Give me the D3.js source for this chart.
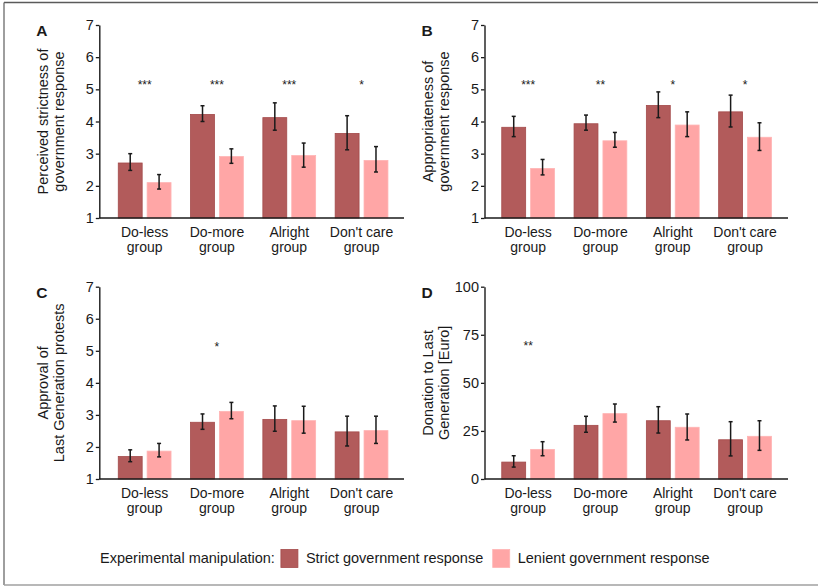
<!DOCTYPE html>
<html>
<head>
<meta charset="utf-8">
<script src="https://cdn.jsdelivr.net/npm/d3@7"></script>
<style>
  body { margin: 0; background: #fff; }
  svg { display: block; }
  text { font-family: "Liberation Sans", Arial, sans-serif; }
</style>
</head>
<body>
<svg width="818" height="586"></svg>
<script>
// --------------- //
// DATA //
// --------------- //
const groups = ["Do-less group", "Do-more group", "Alright group", "Don't care group"];
const series = ["Strict government response", "Lenient government response"];

// A - perceived strictness
const aStrict = [2.71, 4.22, 4.12, 3.63];
const aStrictLo = [2.48, 4.00, 3.73, 3.12];
const aStrictHi = [3.00, 4.49, 4.58, 4.18];
const aLenient = [2.10, 2.91, 2.94, 2.79];
const aLenientLo = [1.90, 2.70, 2.58, 2.43];
const aLenientHi = [2.35, 3.15, 3.33, 3.22];
const aStars = ["***", "***", "***", "*"];

// B - appropriateness
const bStrict = [3.82, 3.93, 4.50, 4.30];
const bStrictLo = [3.53, 3.73, 4.12, 3.83];
const bStrictHi = [4.16, 4.20, 4.92, 4.82];
const bLenient = [2.54, 3.40, 3.89, 3.51];
const bLenientLo = [2.34, 3.20, 3.53, 3.10];
const bLenientHi = [2.82, 3.66, 4.30, 3.96];
const bStars = ["***", "**", "*", "*"];

// C - approval of protests
const cStrict = [1.70, 2.77, 2.86, 2.47];
const cStrictLo = [1.54, 2.55, 2.49, 2.03];
const cStrictHi = [1.91, 3.03, 3.28, 2.96];
const cLenient = [1.87, 3.11, 2.82, 2.51];
const cLenientLo = [1.69, 2.88, 2.43, 2.11];
const cLenientHi = [2.11, 3.39, 3.27, 2.96];
const cStars = ["", "*", "", ""];

// D - donation
const dStrict = [8.8, 27.9, 30.3, 20.4];
const dStrictLo = [6.2, 24.3, 23.9, 12.0];
const dStrictHi = [12.1, 32.6, 37.6, 29.8];
const dLenient = [15.4, 34.0, 26.9, 22.2];
const dLenientLo = [12.1, 29.6, 20.3, 14.9];
const dLenientHi = [19.4, 39.0, 33.8, 30.3];
const dStars = ["**", "", "", ""];

const likertTicks = [1, 2, 3, 4, 5, 6, 7];
const euroTicks = [0, 25, 50, 75, 100];
const likertStarLevel = 5.22;
const euroStarLevel = 70.5;

// --------------- //
// SETUP //
// --------------- //
let svg = d3.select("svg");
const font = '"Liberation Sans", Arial, sans-serif';
const ink = "#1a1a1a";

let color = d3.scaleOrdinal()
    .domain(series)
    .range(["#b25b5b", "#ffa6a6"]);
let edge = d3.scaleOrdinal()
    .domain(series)
    .range(["#a44a4a", "#ffb3b3"]);

// frame
svg.append("line").attr("x1", 4).attr("x2", 818).attr("y1", 2.5).attr("y2", 2.5)
    .attr("stroke", "#5a5a5a").attr("stroke-width", 1.5);
svg.append("line").attr("x1", 4).attr("x2", 4).attr("y1", 2.5).attr("y2", 585)
    .attr("stroke", "#6a6a6a").attr("stroke-width", 1.3);
svg.append("line").attr("x1", 4).attr("x2", 818).attr("y1", 585).attr("y2", 585)
    .attr("stroke", "#a0a0a0").attr("stroke-width", 1.5);

const panels = [
    { letter: "A", title: ["Perceived strictness of", "government response"],
      left: 99.3, right: 404, top: 25, bottom: 218, pad: 9.2,
      domain: [1, 7], ticks: likertTicks, starLevel: likertStarLevel,
      strict: aStrict, strictLo: aStrictLo, strictHi: aStrictHi,
      lenient: aLenient, lenientLo: aLenientLo, lenientHi: aLenientHi, stars: aStars },
    { letter: "B", title: ["Appropriateness of", "government response"],
      left: 484.5, right: 788, top: 25, bottom: 218, pad: 7.5,
      domain: [1, 7], ticks: likertTicks, starLevel: likertStarLevel,
      strict: bStrict, strictLo: bStrictLo, strictHi: bStrictHi,
      lenient: bLenient, lenientLo: bLenientLo, lenientHi: bLenientHi, stars: bStars },
    { letter: "C", title: ["Approval of", "Last Generation protests"],
      left: 99.3, right: 404, top: 286.7, bottom: 479, pad: 9.2,
      domain: [1, 7], ticks: likertTicks, starLevel: likertStarLevel,
      strict: cStrict, strictLo: cStrictLo, strictHi: cStrictHi,
      lenient: cLenient, lenientLo: cLenientLo, lenientHi: cLenientHi, stars: cStars },
    { letter: "D", title: ["Donation to Last", "Generation [Euro]"],
      left: 484.5, right: 788, top: 286.7, bottom: 479, pad: 7.5,
      domain: [0, 100], ticks: euroTicks, starLevel: euroStarLevel,
      strict: dStrict, strictLo: dStrictLo, strictHi: dStrictHi,
      lenient: dLenient, lenientLo: dLenientLo, lenientHi: dLenientHi, stars: dStars }
];

// --------------- //
// PANELS //
// --------------- //
function drawPanel(p) {
    let g = svg.append("g");

    let y = d3.scaleLinear().domain(p.domain).range([p.bottom, p.top]);
    let x = d3.scaleBand()
        .domain(groups)
        .range([p.left + p.pad, p.left + p.pad + 289.2])
        .paddingInner(0.27)
        .paddingOuter(0.135);
    let xs = d3.scaleBand()
        .domain(series)
        .range([0, x.bandwidth()])
        .paddingInner(0.172);

    let rows = [];
    groups.forEach((grp, i) => {
        rows.push({ grp: grp, s: series[0], v: p.strict[i], lo: p.strictLo[i], hi: p.strictHi[i] });
        rows.push({ grp: grp, s: series[1], v: p.lenient[i], lo: p.lenientLo[i], hi: p.lenientHi[i] });
    });

    // bars
    g.selectAll("rect.bar")
        .data(rows)
        .enter()
        .append("rect")
        .attr("class", "bar")
        .attr("x", d => x(d.grp) + xs(d.s))
        .attr("width", xs.bandwidth())
        .attr("y", d => y(d.v))
        .attr("height", d => y(p.domain[0]) - y(d.v))
        .attr("fill", d => color(d.s))
        .attr("stroke", d => edge(d.s))
        .attr("stroke-width", 0.8);

    // error bars
    let cx = d => x(d.grp) + xs(d.s) + xs.bandwidth() / 2;
    let err = g.selectAll("g.err")
        .data(rows)
        .enter()
        .append("g")
        .attr("class", "err")
        .attr("stroke", ink)
        .attr("stroke-width", 1.5);
    err.append("line")
        .attr("x1", cx).attr("x2", cx)
        .attr("y1", d => y(d.lo)).attr("y2", d => y(d.hi));
    err.append("line")
        .attr("x1", d => cx(d) - 2).attr("x2", d => cx(d) + 2)
        .attr("y1", d => y(d.hi)).attr("y2", d => y(d.hi));
    err.append("line")
        .attr("x1", d => cx(d) - 2).attr("x2", d => cx(d) + 2)
        .attr("y1", d => y(d.lo)).attr("y2", d => y(d.lo));

    // stars
    g.selectAll("text.star")
        .data(groups)
        .enter()
        .append("text")
        .attr("class", "star")
        .attr("x", d => x(d) + x.bandwidth() / 2)
        .attr("y", y(p.starLevel) + 7)
        .attr("text-anchor", "middle")
        .attr("font-size", 12)
        .attr("fill", ink)
        .text((d, i) => p.stars[i]);

    // y axis
    let yAxis = g.append("g")
        .attr("transform", `translate(${p.left},0)`)
        .call(d3.axisLeft(y).tickValues(p.ticks).tickFormat(d3.format("d"))
            .tickSize(3.5).tickSizeOuter(0).tickPadding(2))
        .attr("font-size", 14.5)
        .attr("font-family", font)
        .attr("color", ink);
    yAxis.select(".domain").attr("stroke-width", 1.4);
    yAxis.selectAll(".tick line").attr("stroke-width", 1.3);

    // x axis line
    g.append("line")
        .attr("x1", p.left).attr("x2", p.right)
        .attr("y1", p.bottom).attr("y2", p.bottom)
        .attr("stroke", ink)
        .attr("stroke-width", 1.4);

    // category labels
    let xAxis = g.append("g")
        .attr("transform", `translate(0,${p.bottom})`)
        .call(d3.axisBottom(x).tickSize(0))
        .attr("font-size", 14)
        .attr("font-family", font)
        .attr("color", ink);
    xAxis.select(".domain").remove();
    xAxis.selectAll(".tick text").each(function (d) {
        let t = d3.select(this).text(null).attr("y", 0).attr("dy", null);
        let cut = d.lastIndexOf(" ");
        t.append("tspan").attr("x", 0).attr("y", 19).text(d.slice(0, cut));
        t.append("tspan").attr("x", 0).attr("y", 34).text(d.slice(cut + 1));
    });

    // axis title
    let midY = (p.top + p.bottom) / 2;
    p.title.forEach((line, i) => {
        g.append("text")
            .attr("transform", `translate(${p.left - 51.5 + i * 16},${midY}) rotate(-90)`)
            .attr("text-anchor", "middle")
            .attr("font-size", 14.5)
            .attr("fill", ink)
            .text(line);
    });

    // panel letter
    g.append("text")
        .attr("x", p.left - 63)
        .attr("y", p.top + 11)
        .attr("font-size", 15.5)
        .attr("font-weight", "bold")
        .attr("fill", ink)
        .text(p.letter);
}

panels.forEach(drawPanel);

// --------------- //
// LEGEND //
// --------------- //
let legend = svg.append("g").attr("font-size", 14.5).attr("fill", ink);
let lx = 100;
const ly = 563;
let lead = legend.append("text").attr("x", lx).attr("y", ly).text("Experimental manipulation:");
lx += lead.node().getComputedTextLength() + 6;
series.forEach((s) => {
    legend.append("rect")
        .attr("x", lx).attr("y", ly - 13.5)
        .attr("width", 17).attr("height", 18)
        .attr("fill", color(s))
        .attr("stroke", edge(s))
        .attr("stroke-width", 0.8);
    lx += 17 + 8;
    let t = legend.append("text").attr("x", lx).attr("y", ly).text(s);
    lx += t.node().getComputedTextLength() + 9.5;
});
</script>
</body>
</html>
